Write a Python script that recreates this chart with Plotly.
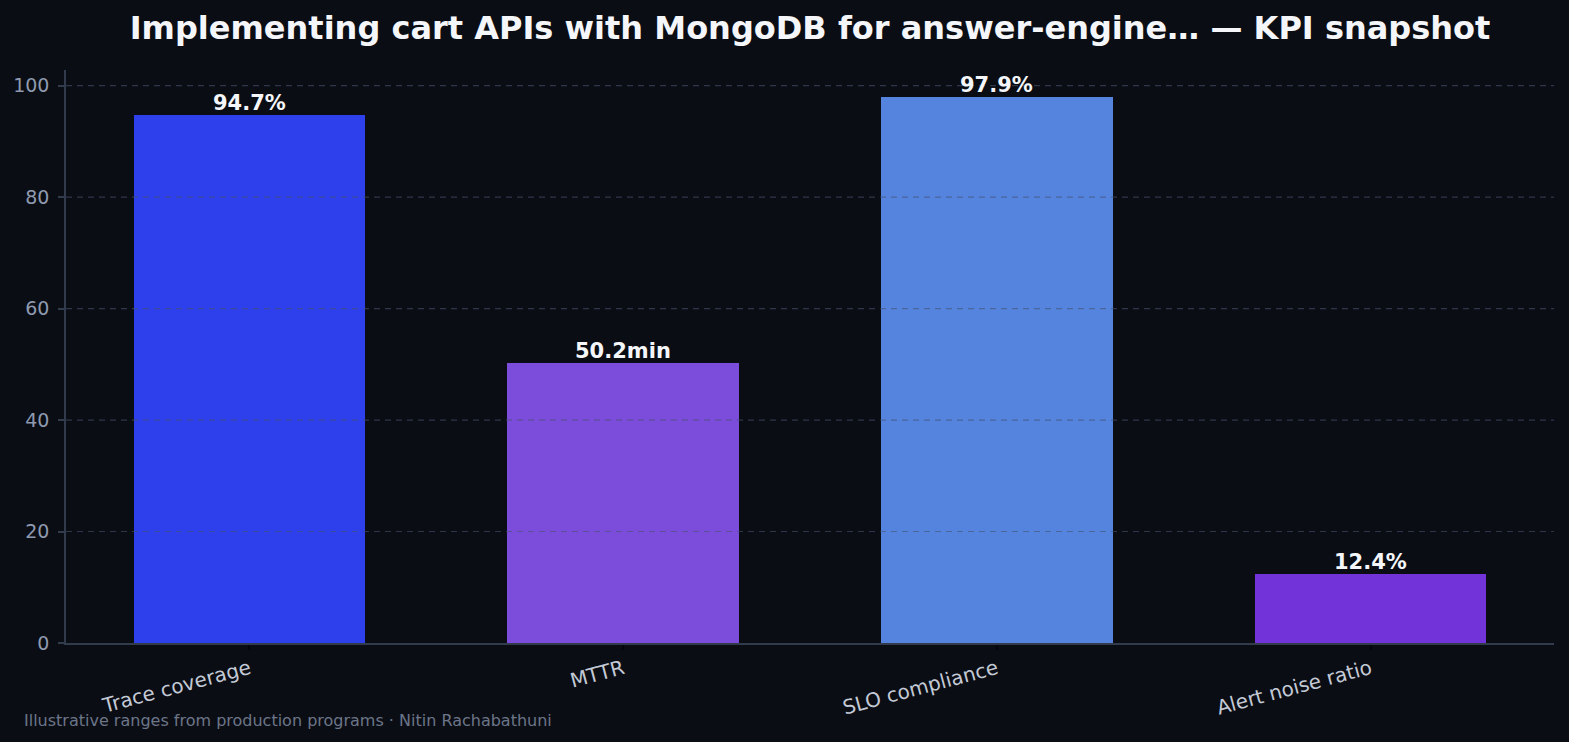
import plotly.graph_objects as go

categories = ["Trace coverage", "MTTR", "SLO compliance", "Alert noise ratio"]
values = [94.7, 50.2, 97.9, 12.4]
units = ["%", "min", "%", "%"]
colors = ["#2e40eb", "#7c4ddb", "#5584de", "#7234d9"]
y_ticks = [0, 20, 40, 60, 80, 100]

BG = "#0b0d14"
labels = [f"{v:.1f}{u}" for v, u in zip(values, units)]
xs = list(range(len(categories)))

fig = go.Figure()
fig.add_trace(go.Bar(
    x=xs, y=values,
    width=0.62,
    marker=dict(color=colors, line=dict(width=0)),
    hoverinfo="skip",
))

for xi, v, lab in zip(xs, values, labels):
    fig.add_annotation(x=xi, y=v, text=f"<b>{lab}</b>", showarrow=False,
                       xanchor="center", yanchor="bottom", yshift=-2,
                       font=dict(family="DejaVu Sans", size=21, color="#f4f6fa"))

# gridlines drawn above the bars (as in the reference)
for t in y_ticks[1:]:
    fig.add_shape(type="line", xref="paper", x0=0, x1=1, yref="y", y0=t, y1=t,
                  line=dict(color="rgba(70,82,110,0.6)", width=1.2, dash="6px,5px"),
                  layer="above")

fig.update_layout(
    width=1569, height=742,
    paper_bgcolor=BG, plot_bgcolor=BG,
    margin=dict(l=66, r=15, t=70, b=99),
    showlegend=False,
    bargap=0,
    title=dict(text="<b>Implementing cart APIs with MongoDB for answer-engine… — KPI snapshot</b>",
               x=(66 + 1554) / 2 / 1569, xanchor="center", y=1 - 28 / 742, yanchor="middle",
               font=dict(family="DejaVu Sans", size=32, color="#f4f6fa")),
    font=dict(family="DejaVu Sans"),
)
fig.update_xaxes(
    range=[-0.491, 3.491], tickmode="array", tickvals=xs,
    ticktext=categories, tickangle=-15,
    tickfont=dict(size=20, color="#c3cad6"),
    ticks="outside", ticklen=5, tickcolor="#05060a", tickwidth=1.5,
    showgrid=False, zeroline=False,
    showline=True, linecolor="#323b4c", linewidth=1.5,
)
fig.update_yaxes(
    range=[0, 102.8], tickmode="array", tickvals=y_ticks,
    tickfont=dict(size=19, color="#8f9ab0"),
    ticks="outside", ticklen=6, tickcolor="#323b4c", tickwidth=1.5,
    ticklabelstandoff=5,
    showgrid=False, zeroline=False,
    showline=True, linecolor="#323b4c", linewidth=1.5,
)
fig.add_annotation(text="Illustrative ranges from production programs · Nitin Rachabathuni",
                   xref="paper", yref="paper", x=-44 / 1488, y=-(720 - 643) / 573,
                   xanchor="left", yanchor="middle", showarrow=False,
                   font=dict(family="DejaVu Sans", size=16, color="#6b7689"))

fig.write_html("out.html")
